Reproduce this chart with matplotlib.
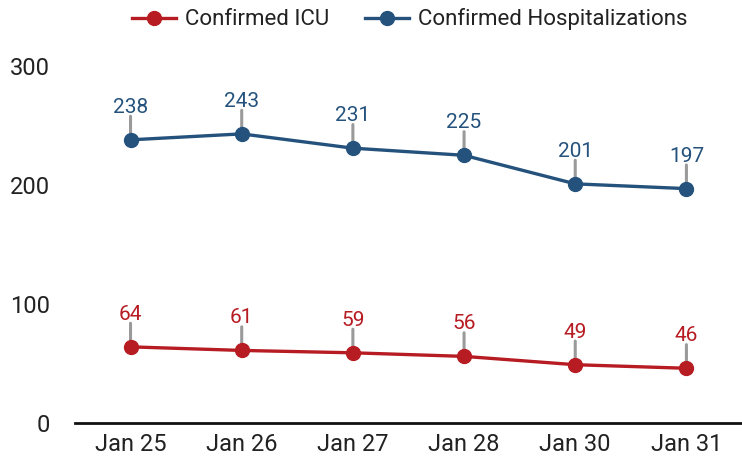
import matplotlib
matplotlib.use("Agg")
import matplotlib.pyplot as plt
from matplotlib.lines import Line2D

DATES = ["Jan 25", "Jan 26", "Jan 27", "Jan 28", "Jan 30", "Jan 31"]
ICU = [64, 61, 59, 56, 49, 46]
HOSP = [238, 243, 231, 225, 201, 197]

RED = "#b71c22"
BLUE = "#24527c"
STEM = "#9a9a9a"

plt.rcParams["font.family"] = ["Roboto", "DejaVu Sans"]


def draw_series(ax, values, color, label):
    x = list(range(len(values)))
    ax.plot(x, values, color=color, lw=2.4, marker="o", ms=10, label=label, zorder=3)
    for xi, v in zip(x, values):
        # grey stem from the point up to the value label
        ax.annotate("", xy=(xi, v), xytext=(0, 17), textcoords="offset points",
                    arrowprops=dict(arrowstyle="-", color=STEM, lw=2.2,
                                    shrinkA=0, shrinkB=0), zorder=2)
        ax.annotate(str(v), xy=(xi, v), xytext=(0, 19.5), textcoords="offset points",
                    ha="center", va="baseline", fontsize=15, color=color)


fig = plt.figure(figsize=(7.42, 4.62), dpi=100)
ax = fig.add_axes([0.101, 0.0844, 0.899, 0.7726])

draw_series(ax, ICU, RED, "Confirmed ICU")
draw_series(ax, HOSP, BLUE, "Confirmed Hospitalizations")

ax.set_xlim(-0.5, 5.5)
ax.set_ylim(0, 300)
ax.set_yticks([0, 100, 200, 300])
ax.set_xticks(range(len(DATES)))
ax.set_xticklabels(DATES)
ax.tick_params(axis="both", length=0, labelsize=17, colors="#222222")
ax.tick_params(axis="y", pad=18)
ax.tick_params(axis="x", pad=7)
for s in ["top", "right", "left"]:
    ax.spines[s].set_visible(False)
ax.spines["bottom"].set_color("#111111")
ax.spines["bottom"].set_linewidth(2)

handles = [
    Line2D([], [], color=RED, lw=2.4, marker="o", ms=10, label="Confirmed ICU"),
    Line2D([], [], color=BLUE, lw=2.4, marker="o", ms=10, label="Confirmed Hospitalizations"),
]
fig.legend(handles=handles, loc="upper center", bbox_to_anchor=(0.552, 1.025), ncol=2,
           frameon=False, fontsize=16, handlelength=2.0, handletextpad=0.4,
           columnspacing=1.6, labelcolor="#222222")

fig.savefig("out.png", dpi=100)
